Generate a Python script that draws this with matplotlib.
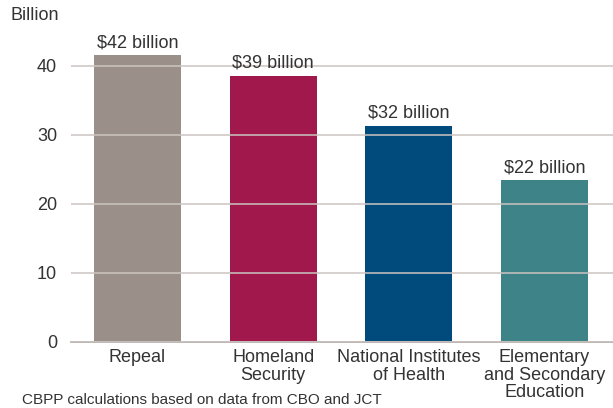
import matplotlib.pyplot as plt

categories = ['Repeal', 'Homeland\nSecurity', 'National Institutes\nof Health',
              'Elementary\nand Secondary\nEducation']
values = [41.5, 38.5, 31.3, 23.4]
labels = ['$42 billion', '$39 billion', '$32 billion', '$22 billion']
colors = ['#9a8f89', '#a0184c', '#004b7b', '#3e8388']
yticks = [0, 10, 20, 30, 40]

plt.rcParams['font.family'] = ['Liberation Sans', 'DejaVu Sans']
txt = '#333333'

fig = plt.figure(figsize=(6.13, 4.08), dpi=100)
ax = fig.add_axes([71 / 613, 1 - 342 / 408, 1 - 71 / 613, (342 - 31) / 408])

x = range(len(categories))
ax.bar(x, values, width=0.64, color=colors, zorder=1)
for xi, v, lab in zip(x, values, labels):
    ax.text(xi, v + 0.6, lab, ha='center', va='bottom', fontsize=13, color=txt)

ax.set_xlim(-0.49, 3.505)
ax.set_ylim(0, 45)
ax.set_yticks(yticks)
ax.set_xticks(list(x))
ax.set_xticklabels(categories, fontsize=13, color=txt, linespacing=1.05)
ax.tick_params(axis='y', labelsize=13, labelcolor=txt, length=0, pad=10)
ax.tick_params(axis='x', length=0, pad=5)
ax.grid(axis='y', color='#cbc5c1', linewidth=1.1, zorder=2)
ax.set_axisbelow(False)
for s in ['top', 'right', 'left']:
    ax.spines[s].set_visible(False)
ax.spines['bottom'].set_color('#b9b1ad')
ax.spines['bottom'].set_linewidth(1.3)

fig.text(10 / 613, 1 - 16 / 408, 'Billion', fontsize=13, color=txt, va='center')
fig.text(22 / 613, 1 / 408, 'CBPP calculations based on data from CBO and JCT',
         fontsize=11, color=txt, va='bottom')

fig.savefig('out.png', dpi=100)
